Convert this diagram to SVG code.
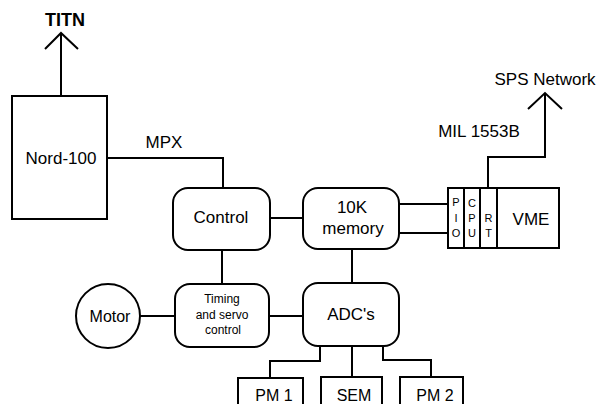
<svg xmlns="http://www.w3.org/2000/svg" width="602" height="404" viewBox="0 0 602 404">
<style>
.s{fill:none;stroke:#000;stroke-width:2}
.b{fill:#fff;stroke:#000;stroke-width:2}
text{font-family:"Liberation Sans",Arial,sans-serif;fill:#000;text-anchor:middle}
.t17{font-size:17px}
.t12{font-size:12px}
.t11{font-size:11px}
</style>
<rect width="602" height="404" fill="#fff"/>
<g id="connectors" class="s">
<path d="M61,96V33"/>
<path d="M45,49L61,33L78,49"/>
<path d="M108,158H223V188"/>
<path d="M270,218H303"/>
<path d="M399,204H448"/>
<path d="M399,233H451"/>
<path d="M488,188V157H545V94"/>
<path d="M528,109L545,93L562,109"/>
<path d="M222,250V284"/>
<path d="M140,316H175"/>
<path d="M269,316H303"/>
<path d="M352,249V283"/>
<path d="M320,346V361H270V378"/>
<path d="M352,346V377"/>
<path d="M383,346V360H431V377"/>
</g>
<g id="titn"><text x="65" y="26" font-size="18" font-weight="bold">TITN</text></g>
<g id="mpx-label"><text class="t17" x="164" y="148">MPX</text></g>
<g id="sps"><text class="t17" x="545" y="85">SPS Network</text></g>
<g id="mil"><text class="t17" x="479" y="137">MIL 1553B</text></g>
<g id="nord"><rect class="b" x="12" y="96" width="95" height="123"/><text class="t17" x="61" y="164">Nord-100</text></g>
<g id="control"><rect class="b" x="173" y="188" width="97" height="62" rx="15"/><text class="t17" x="221" y="223">Control</text></g>
<g id="memory"><rect class="b" x="303" y="188" width="96" height="61" rx="15"/><text class="t17" x="352" y="213">10K</text><text class="t17" x="353" y="234">memory</text></g>
<g id="vme">
<rect class="b" x="448" y="188" width="111" height="60"/>
<path class="s" d="M464,188V248M480,188V248M497,188V248"/>
<text class="t11" x="456" y="206">P</text>
<text class="t11" x="456" y="222">I</text>
<text class="t11" x="456" y="237">O</text>
<text class="t11" x="472" y="207">C</text>
<text class="t11" x="472" y="222">P</text>
<text class="t11" x="472" y="237">U</text>
<text class="t11" x="488.5" y="222">R</text>
<text class="t11" x="488.5" y="237">T</text>
<text class="t17" x="531" y="225">VME</text>
</g>
<g id="timing"><rect class="b" x="175" y="284" width="94" height="63" rx="15"/><text class="t12" x="222" y="303">Timing</text><text class="t12" x="222" y="319">and servo</text><text class="t12" x="223" y="334">control</text></g>
<g id="motor"><circle class="b" cx="108" cy="316" r="32"/><text x="110" y="322" font-size="16">Motor</text></g>
<g id="adc"><rect class="b" x="303" y="283" width="96" height="63" rx="15"/><text class="t17" x="351" y="320">ADC's</text></g>
<g id="pm1"><path class="b" d="M238,410V378H303V410"/><text x="274" y="401" font-size="16">PM 1</text></g>
<g id="sem"><path class="b" d="M321,410V377H382V410"/><text x="354" y="401" font-size="16">SEM</text></g>
<g id="pm2"><path class="b" d="M400,410V377H463V410"/><text x="435" y="401" font-size="16">PM 2</text></g>
</svg>
